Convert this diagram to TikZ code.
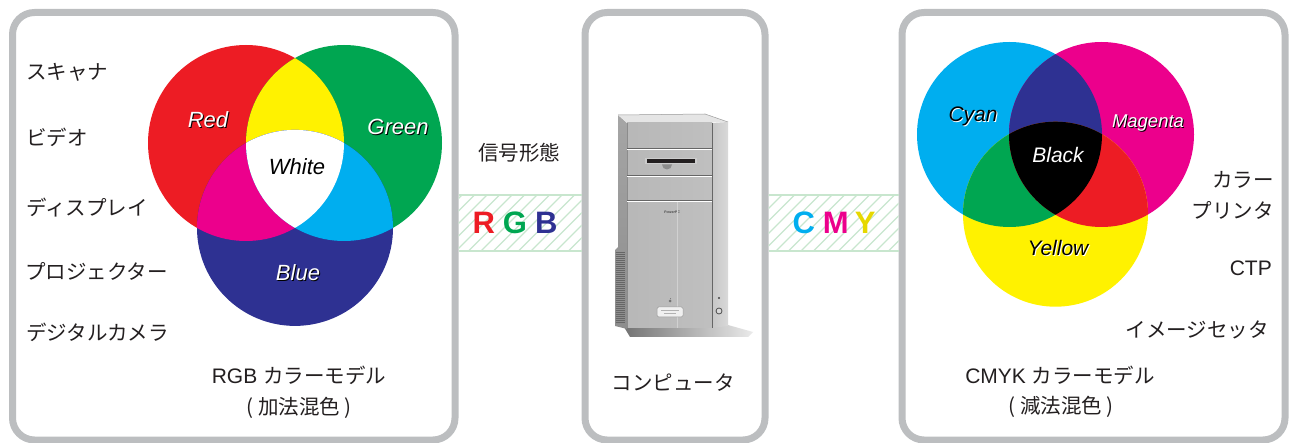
\documentclass[tikz,border=0pt]{standalone}
\usepackage{fontspec}
\setmainfont{Liberation Sans}
\newfontfamily\jp{Noto Sans CJK JP}
\usetikzlibrary{calc}

\definecolor{pRed}{HTML}{ED1C24}
\definecolor{pGreen}{HTML}{00A651}
\definecolor{pBlue}{HTML}{2E3192}
\definecolor{pYellow}{HTML}{FFF200}
\definecolor{pMagenta}{HTML}{EC008C}
\definecolor{pCyan}{HTML}{00AEEF}
\definecolor{cmyY}{HTML}{E6D800}
\definecolor{frame}{HTML}{BCBEC0}
\definecolor{band}{HTML}{C8E6CE}
\definecolor{ink}{HTML}{231F20}

\newcommand\jpt[1]{{\jp\fontsize{20.5}{24}\selectfont #1}}

\begin{document}
\begin{tikzpicture}[x=1pt,y=-1pt,
  panel/.style={draw=frame, line width=7pt, fill=white, rounded corners=22pt, inner sep=0pt},
  jptxt/.style={font=\jp\fontsize{20.5}{24}\selectfont, text=ink, inner sep=0pt},
  lattxt/.style={font=\fontsize{21}{25}\selectfont, text=ink, inner sep=0pt},
  vlab/.style={font=\itshape\fontsize{22}{26}\selectfont, inner sep=0pt, text height=15.8pt, text depth=0pt},
  vlabs/.style={font=\itshape\fontsize{21}{25}\selectfont, inner sep=0pt, text height=15pt, text depth=0pt},
  bandline/.style={draw=band, line width=2pt},
  hatch/.style={draw=band, line width=1.3pt},
  bandtxt/.style={font=\bfseries\fontsize{31}{34}\selectfont, inner sep=0pt},
]
\useasboundingbox (0,0) rectangle (1293,443);

% ---------- three panels ----------
\node[panel, minimum width=442.5pt, minimum height=427.5pt] (left)  at (233.75,226.25) {};
\node[panel, minimum width=180pt,   minimum height=427.5pt] (mid)   at (675,226.25) {};
\node[panel, minimum width=383pt,   minimum height=427.5pt] (right) at (1093.5,226.25) {};

% ---------- hatched signal bands ----------
\coordinate (rgbA) at (left.east |- 0,195);
\coordinate (rgbB) at (mid.west |- 0,251);
\begin{scope}
  \clip (rgbA) rectangle (rgbB);
  \foreach \x in {380,392.5,...,600} \draw[hatch] (\x,252) -- ++(58,-58);
\end{scope}
\draw[bandline] (rgbA) -- (rgbA -| rgbB);
\draw[bandline] (rgbA |- rgbB) -- (rgbB);
\node[bandtxt] (rgbT) at (515,223)
  {\textcolor{pRed}{R}\hspace{8pt}\textcolor{pGreen}{G}\hspace{8pt}\textcolor{pBlue}{B}};

\coordinate (cmyA) at (mid.east |- 0,195);
\coordinate (cmyB) at (right.west |- 0,251);
\begin{scope}
  \clip (cmyA) rectangle (cmyB);
  \foreach \x in {700,712.5,...,920} \draw[hatch] (\x,252) -- ++(58,-58);
\end{scope}
\draw[bandline] (cmyA) -- (cmyA -| cmyB);
\draw[bandline] (cmyA |- cmyB) -- (cmyB);
\node[bandtxt] (cmyT) at (834,223)
  {\textcolor{pCyan}{C}\hspace{8pt}\textcolor{pMagenta}{M}\hspace{6pt}\textcolor{cmyY}{Y}};

% ---------- additive model ----------
\coordinate (cR) at (246,143);
\coordinate (cG) at (344,143);
\coordinate (cB) at (295,227.9);
\def\rr{98pt}
\fill[pRed]   (cR) circle[radius=\rr];
\fill[pGreen] (cG) circle[radius=\rr];
\fill[pBlue]  (cB) circle[radius=\rr];
\begin{scope}\clip (cR) circle[radius=\rr]; \fill[pYellow] (cG) circle[radius=\rr];\end{scope}
\begin{scope}\clip (cR) circle[radius=\rr]; \fill[pMagenta] (cB) circle[radius=\rr];\end{scope}
\begin{scope}\clip (cG) circle[radius=\rr]; \fill[pCyan] (cB) circle[radius=\rr];\end{scope}
\begin{scope}\clip (cR) circle[radius=\rr]; \clip (cG) circle[radius=\rr]; \fill[white] (cB) circle[radius=\rr];\end{scope}

\node[vlab, text=black] (redS)   at (209,121) {Red};
\node[vlab, text=white] (redL)   at (208,120) {Red};
\node[vlab, text=black] (greenS) at (399,128) {Green};
\node[vlab, text=white] (greenL) at (398,127) {Green};
\node[vlab, text=white] (whiteS) at (298,168) {White};
\node[vlab, text=black] (whiteL) at (297,167) {White};
\node[vlab, text=black] (blueS)  at (299,274) {Blue};
\node[vlab, text=white] (blueL)  at (298,273) {Blue};

% input devices
\node[jptxt, anchor=west] (scan) at (26,72)  {スキャナ};
\node[jptxt, anchor=west] (vid)  at (26,137) {ビデオ};
\node[jptxt, anchor=west] (disp) at (26,208) {ディスプレイ};
\node[jptxt, anchor=west] (proj) at (25,271) {プロジェクター};
\node[jptxt, anchor=west] (cam)  at (26,332) {デジタルカメラ};

\node[lattxt] (rgbM) at (299,375) {RGB \jpt{カラーモデル}};
\node[jptxt]  (rgbK) at (299,408) {( 加法混色 )};

% ---------- computer ----------
\node[jptxt] (sig) at (519,153) {信号形態};
\node[jptxt] (pc)  at (673,383) {コンピュータ};

% floor shadow
\shade[left color=black!55, right color=black!8]
  (624,327) -- (712,327) -- (728,325) -- (753,332) -- (748,337) -- (630,337) -- cycle;
% left side with vents
\shade[top color=black!35, bottom color=black!45]
  (618,115) -- (627,123) -- (627,329) -- (615,326) -- (615,250) -- (618,247) -- cycle;
\foreach \v in {252,254,...,322} \draw[black!60, line width=0.6pt] (615.5,\v) -- (624.5,\v);
% top
\fill[black!10] (618,115) -- (705,114) -- (728,122) -- (627,123) -- cycle;
\draw[black!40, line width=0.5pt] (618,115) -- (705,114) -- (728,122);
% front
\shade[left color=black!28, middle color=black!5, right color=black!25]
  (627,123) rectangle (712,328);
% right strip
\shade[left color=black!22, right color=black!15]
  (712,123) -- (728,122) -- (728,326) -- (712,328) -- cycle;
\draw[black!60, line width=0.8pt] (712.5,123) -- (712.5,328);
\draw[black!45, line width=0.6pt] (627,123) -- (627,328);
% bay seams
\foreach \b in {148,175,200} {
  \draw[black!60, line width=0.9pt] (627,\b) -- (712,\b);
  \draw[white, line width=0.6pt] (627,\b+1.2) -- (712,\b+1.2);
}
% drive slot
\fill[black!20] (645,158.5) rectangle (697,164.5);
\fill[ink] (647,159.5) rectangle (695,163.5);
\fill[black!45] (662,164.5) arc[start angle=180, end angle=360, radius=5pt] -- cycle;
% badge, seam, logo, label, buttons
\node[font=\bfseries\itshape\fontsize{3.6}{4}\selectfont, text=black!70, inner sep=0pt] (ppc) at (672,212) {PowerPC};
\draw[black!18, line width=0.6pt] (677,202) -- (677,328);
\fill[black!55] (670,301) circle[radius=1.5pt];
\fill[black!55] (670.5,298.6) circle[radius=0.5pt];
\draw[black!40, fill=black!6, line width=0.5pt, rounded corners=1.5pt] (657,307) rectangle (683,317);
\draw[black!30, line width=0.4pt] (661,310.5) -- (679,310.5) (664,313.5) -- (676,313.5);
\fill[black!75] (719,298) circle[radius=1.2pt];
\draw[black!70, line width=0.8pt, fill=black!15] (719,311) circle[radius=3pt];

% ---------- subtractive model ----------
\coordinate (cC) at (1009.5,134.5);
\coordinate (cM) at (1101.5,134.5);
\coordinate (cY) at (1055.5,214.2);
\def\rs{92.5pt}
\fill[pCyan]    (cC) circle[radius=\rs];
\fill[pMagenta] (cM) circle[radius=\rs];
\fill[pYellow]  (cY) circle[radius=\rs];
\begin{scope}\clip (cC) circle[radius=\rs]; \fill[pBlue] (cM) circle[radius=\rs];\end{scope}
\begin{scope}\clip (cC) circle[radius=\rs]; \fill[pGreen] (cY) circle[radius=\rs];\end{scope}
\begin{scope}\clip (cM) circle[radius=\rs]; \fill[pRed] (cY) circle[radius=\rs];\end{scope}
\begin{scope}\clip (cC) circle[radius=\rs]; \clip (cM) circle[radius=\rs]; \fill[black] (cY) circle[radius=\rs];\end{scope}

\node[vlabs, text=white] (cyanS)  at (974,115)  {Cyan};
\node[vlabs, text=black] (cyanL)  at (973,114)  {Cyan};
\node[vlabs, text=black, font=\itshape\fontsize{18.5}{22}\selectfont, text height=13.2pt] (magS) at (1149,121.5) {Magenta};
\node[vlabs, text=white, font=\itshape\fontsize{18.5}{22}\selectfont, text height=13.2pt] (magL) at (1148,120.5) {Magenta};
\node[vlabs, text=white] (blackL) at (1058,155)  {Black};
\node[vlabs, text=white] (yelS)   at (1059,249)  {Yellow};
\node[vlabs, text=black] (yelL)   at (1058,248)  {Yellow};

% output devices
\node[jptxt, anchor=east] (cpr1) at (1274,180) {カラー};
\node[jptxt, anchor=east] (cpr2) at (1274,210) {プリンタ};
\node[lattxt, anchor=east] (ctp) at (1272,268) {CTP};
\node[jptxt, anchor=east] (ims)  at (1269,330) {イメージセッタ};

\node[lattxt] (cmyM) at (1060,375) {CMYK \jpt{カラーモデル}};
\node[jptxt]  (cmyK) at (1061,407) {( 減法混色 )};
\end{tikzpicture}
\end{document}
